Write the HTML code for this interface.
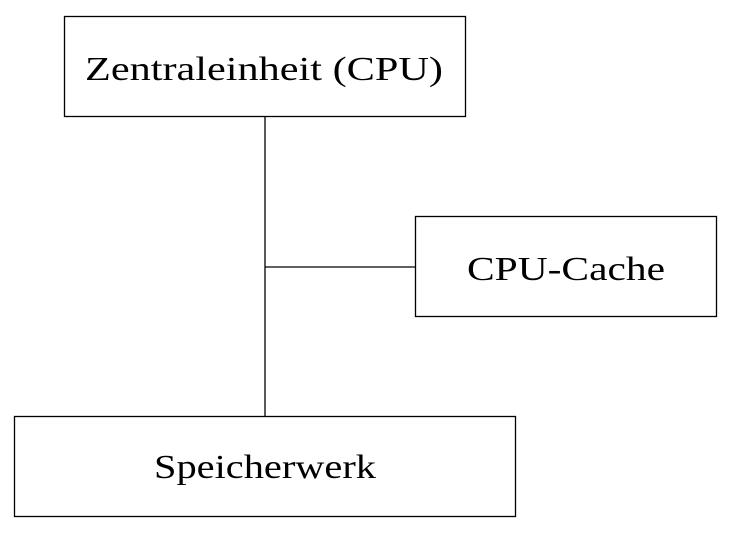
<!DOCTYPE html>
<html><head><meta charset="utf-8"><style>html,body{margin:0;padding:0;background:#fff;}svg{display:block}</style></head>
<body>
<svg width="732" height="536" viewBox="0 0 732 536" xmlns="http://www.w3.org/2000/svg">
<g fill="none" stroke="#000" stroke-width="1.3">
<rect x="64.5" y="16.5" width="401" height="100"/>
<rect x="415.5" y="216.5" width="301" height="100"/>
<rect x="14.5" y="416.5" width="501" height="100"/>
<line x1="265" y1="116.5" x2="265" y2="416.5"/>
<line x1="265" y1="267" x2="415.5" y2="267"/>
</g>
<g font-family="'Liberation Serif', serif" font-size="34" fill="#000">
<text x="85" y="80" textLength="358" lengthAdjust="spacingAndGlyphs">Zentraleinheit (CPU)</text>
<text x="467" y="280" textLength="198" lengthAdjust="spacingAndGlyphs">CPU-Cache</text>
<text x="154" y="478" textLength="222" lengthAdjust="spacingAndGlyphs">Speicherwerk</text>
</g>
</svg>
</body></html>
